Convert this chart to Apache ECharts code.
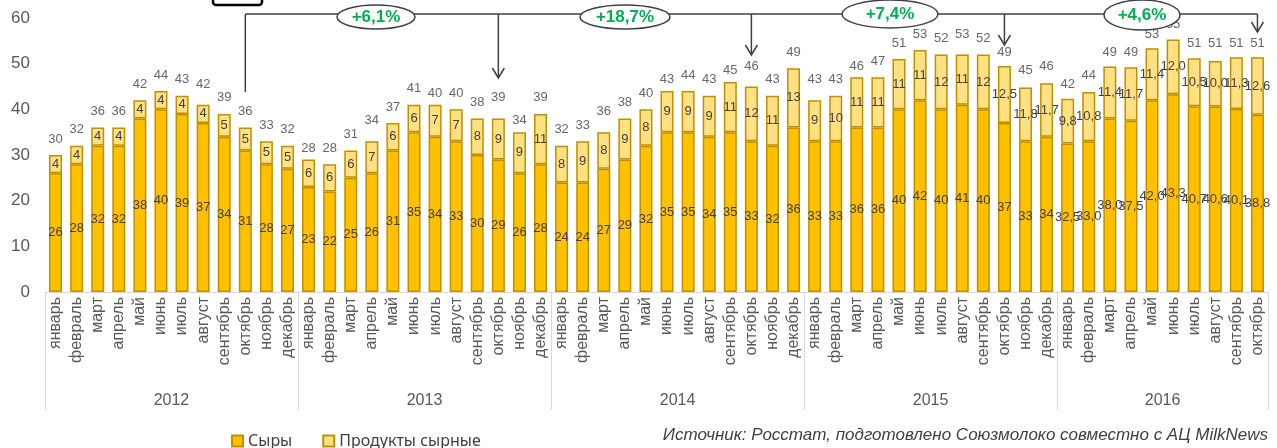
<!DOCTYPE html>
<html>
<head>
<meta charset="utf-8">
<script src="https://cdn.jsdelivr.net/npm/echarts@6/dist/echarts.min.js"></script>
<style>
  html, body { margin: 0; padding: 0; background: #fff; }
  #chart { width: 1277px; height: 448px; }
</style>
</head>
<body>
<div id="chart"></div>
<script>
// данные
var years = ['2012', '2013', '2014', '2015', '2016'];
var monthsInYear = [12, 12, 12, 12, 10];
var monthNames = ['январь', 'февраль', 'март', 'апрель', 'май', 'июнь', 'июль', 'август', 'сентябрь', 'октябрь', 'ноябрь', 'декабрь'];

var cheese = [
    26, 28, 32, 32, 38, 40, 39, 37, 34, 31, 28, 27,
    23, 22, 25, 26, 31, 35, 34, 33, 30, 29, 26, 28,
    24, 24, 27, 29, 32, 35, 35, 34, 35, 33, 32, 36,
    33, 33, 36, 36, 40, 42, 40, 41, 40, 37, 33, 34,
    32.5, 33.0, 38.0, 37.5, 42.0, 43.3, 40.7, 40.6, 40.1, 38.8
];
var cheeseProducts = [
    4, 4, 4, 4, 4, 4, 4, 4, 5, 5, 5, 5,
    6, 6, 6, 7, 6, 6, 7, 7, 8, 9, 9, 11,
    8, 9, 8, 9, 8, 9, 9, 9, 11, 12, 11, 13,
    9, 10, 11, 11, 11, 11, 12, 11, 12, 12.5, 11.8, 11.7,
    9.8, 10.8, 11.4, 11.7, 11.4, 12.0, 10.5, 10.0, 11.3, 12.6
];
var totals = [
    30, 32, 36, 36, 42, 44, 43, 42, 39, 36, 33, 32,
    28, 28, 31, 34, 37, 41, 40, 40, 38, 39, 34, 39,
    32, 33, 36, 38, 40, 43, 44, 43, 45, 46, 43, 49,
    43, 43, 46, 47, 51, 53, 52, 53, 52, 49, 45, 46,
    42, 44, 49, 49, 53, 55, 51, 51, 51, 51
];
var yTicks = [0, 60, 10];
var growth = ['+6,1%', '+18,7%', '+7,4%', '+4,6%'];
var octoberIdx = [9, 21, 33, 45, 57];

var months = [];
var yearOfMonth = [];
var groupStart = [];
years.forEach(function (y, k) {
    groupStart.push(months.length);
    for (var m = 0; m < monthsInYear[k]; m++) {
        months.push(monthNames[m]);
        yearOfMonth.push(y);
    }
});

function fmt(v, i) {
    if (i >= 48 || !Number.isInteger(v)) return v.toFixed(1).replace('.', ',');
    return String(v);
}

var yearLabelIdx = {};
years.forEach(function (y, k) {
    yearLabelIdx[groupStart[k] + Math.floor((monthsInYear[k] - 1) / 2)] = true;
});

var chart = echarts.init(document.getElementById('chart'));
var txt = '#404040';
var option = {
    animation: false,
    textStyle: { fontFamily: 'Liberation Sans, Arial, sans-serif' },
    grid: { left: 45, right: 9, top: 18, bottom: 156 },
    legend: {
        data: ['Сыры', 'Продукты сырные'],
        left: 226, top: 428,
        itemWidth: 11, itemHeight: 11, itemGap: 30,
        icon: 'rect',
        textStyle: { fontSize: 16, color: txt, fontFamily: 'Noto Sans' }
    },
    xAxis: [{
        type: 'category',
        data: months,
        axisLine: { lineStyle: { color: '#d9d9d9', width: 1 } },
        axisTick: {
            show: true, length: 118,
            interval: function (i) { return groupStart.indexOf(i) >= 0; },
            lineStyle: { color: '#d9d9d9' }
        },
        axisLabel: { rotate: 90, interval: 0, fontSize: 16, color: '#595959', margin: 5 }
    }, {
        type: 'category',
        data: yearOfMonth,
        position: 'bottom',
        offset: 95,
        axisLine: { show: false },
        axisTick: { show: false },
        axisLabel: {
            interval: function (i) { return !!yearLabelIdx[i]; },
            margin: 6,
            formatter: function (v) { return '{y|' + v + '}'; },
            rich: { y: { fontSize: 16, color: '#595959', padding: [0, 0, 0, 21] } }
        }
    }],
    yAxis: {
        type: 'value',
        min: yTicks[0], max: yTicks[1], interval: yTicks[2],
        splitLine: { show: false },
        axisLine: { show: false },
        axisTick: { show: false },
        axisLabel: { fontSize: 17, color: '#595959', margin: 15 }
    },
    series: [{
        name: 'Сыры',
        type: 'bar',
        stack: 'a',
        barWidth: 13,
        data: cheese,
        itemStyle: { color: '#FFC000', borderColor: '#BF9000', borderWidth: 1.5 },
        label: {
            show: true, position: 'inside', fontSize: 13, color: txt,
            formatter: function (p) { return fmt(p.value, p.dataIndex); }
        }
    }, {
        name: 'Продукты сырные',
        type: 'bar',
        stack: 'a',
        barWidth: 13,
        data: cheeseProducts,
        itemStyle: { color: '#FFE083', borderColor: '#BF9000', borderWidth: 1.5 },
        label: {
            show: true, position: 'inside', fontSize: 13, color: txt,
            formatter: function (p) { return fmt(p.value, p.dataIndex); }
        }
    }, {
        name: 'total',
        type: 'scatter',
        data: totals,
        symbolSize: 1,
        itemStyle: { color: 'rgba(0,0,0,0)' },
        label: { show: true, position: 'top', distance: 9, fontSize: 13, color: txt },
        z: 5
    }]
};
chart.setOption(option);

// стрелки и подписи прироста
var lineY = 14;
var tipY = [92, 78, 55, 45, 32];
var ovals = [[376, 17, 39, 12], [625, 17, 45, 12], [890, 14, 48, 14], [1142, 15, 38, 15]];
var px = octoberIdx.map(function (i) { return chart.convertToPixel({ xAxisIndex: 0 }, i); });
var stroke = { stroke: '#404040', lineWidth: 1.5 };
var g = [];
g.push({ type: 'rect', shape: { x: 213, y: -6, width: 49, height: 11, r: 3 },
    style: { fill: '#fff', stroke: '#000', lineWidth: 2.5 } });
g.push({ type: 'line', shape: { x1: px[0], y1: lineY, x2: px[4], y2: lineY }, style: stroke });
g.push({ type: 'line', shape: { x1: px[0], y1: lineY, x2: px[0], y2: tipY[0] }, style: stroke });
for (var k = 1; k < px.length; k++) {
    g.push({ type: 'line', shape: { x1: px[k], y1: lineY, x2: px[k], y2: tipY[k] }, style: stroke });
    g.push({ type: 'polyline', shape: { points: [[px[k] - 6, tipY[k] - 10], [px[k], tipY[k]], [px[k] + 6, tipY[k] - 10]] },
        style: { stroke: '#404040', lineWidth: 1.5, fill: null } });
}
ovals.forEach(function (o, k) {
    g.push({ type: 'ellipse', shape: { cx: o[0], cy: o[1], rx: o[2], ry: o[3] },
        style: { fill: '#fff', stroke: '#404040', lineWidth: 1.5 }, z: 10 });
    g.push({ type: 'text', x: o[0], y: o[1], z: 11,
        style: { text: growth[k], fill: '#00B050', font: 'bold 17px Liberation Sans, Arial, sans-serif',
            align: 'center', verticalAlign: 'middle' } });
});
g.push({ type: 'text', right: 9, top: 427,
    style: { text: 'Источник: Росстат, подготовлено Союзмолоко совместно с АЦ MilkNews',
        fill: txt, font: 'italic 17px Liberation Sans, Arial, sans-serif' } });
chart.setOption({ graphic: g });
</script>
</body>
</html>
